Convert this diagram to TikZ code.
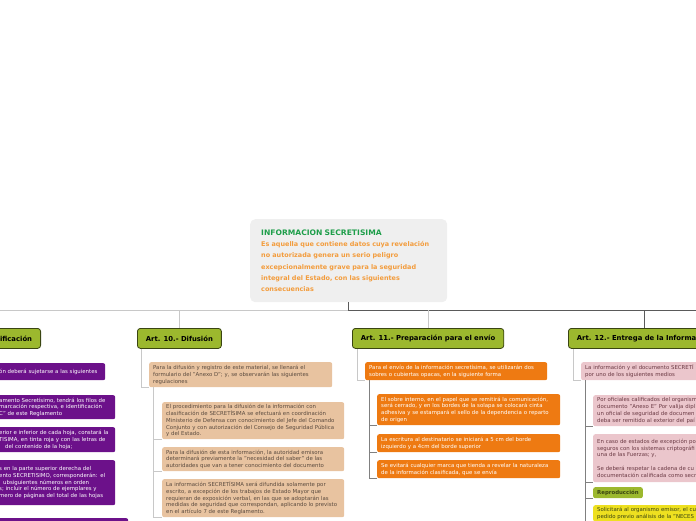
\documentclass[tikz,border=0pt]{standalone}
\usepackage{fontspec}
\setmainfont{DejaVu Sans}

\definecolor{artgreen}{HTML}{9CB82E}
\definecolor{artedge}{HTML}{3A4512}
\definecolor{infogray}{HTML}{EFEFEF}
\definecolor{titlegreen}{HTML}{1E9E4A}
\definecolor{infoorange}{HTML}{F39C3C}
\definecolor{leafpurple}{HTML}{6C118A}
\definecolor{leaftan}{HTML}{E8C3A0}
\definecolor{tantext}{HTML}{5B4B3F}
\definecolor{leaforange}{HTML}{EE7A12}
\definecolor{leafpink}{HTML}{EBC6CC}
\definecolor{pinktext}{HTML}{6B3A44}
\definecolor{leafyellow}{HTML}{EEE020}
\definecolor{lightgray}{HTML}{C8C8C8}
\definecolor{darkgray}{HTML}{5A5A5A}

\newcommand\artfont{\bfseries\fontsize{6.85}{7.5}\selectfont}
\newcommand\leaffont{\fontsize{5.4}{6.8}\selectfont}
\newcommand\infofont{\bfseries\fontsize{6.45}{11.2}\selectfont}

\tikzset{
  infobox/.style={fill=infogray, rounded corners=5pt, anchor=north west, align=left,
    text width=175pt, minimum height=83pt, inner xsep=11pt, font=\infofont, text=infoorange},
  artbox/.style={draw=artedge, fill=artgreen, line width=0.8pt, rounded corners=3pt,
    anchor=north west, minimum height=20pt, inner xsep=8.5pt, font=\artfont},
  leaf/.style={anchor=north west, rounded corners=2pt, align=left, inner xsep=4pt,
    inner ysep=2pt, font=\leaffont},
  purplebox/.style={leaf, fill=leafpurple, text=white},
  tanbox/.style={leaf, fill=leaftan, text=tantext},
  orangebox/.style={leaf, fill=leaforange, text=white},
  pinkbox/.style={leaf, fill=leafpink, text=pinktext},
  yellowbox/.style={leaf, fill=leafyellow, text=artedge},
  reprobox/.style={leaf, fill=artgreen, text=artedge, font=\leaffont\bfseries},
  lightlink/.style={draw=lightgray, line width=0.9pt},
  darklink/.style={draw=darkgray, line width=0.9pt},
  midlink/.style={draw=gray, line width=0.9pt}
}

\begin{document}
\begin{tikzpicture}[x=1pt,y=-1pt]
\useasboundingbox (0,0) rectangle (696,520);
\clip (0,0) rectangle (696,520);

% centre
\node[infobox] (info) at (250,219) {\textcolor{titlegreen}{\fontsize{7.6}{11.2}\selectfont INFORMACION SECRETISIMA}\\
  Es aquella que contiene datos cuya revelación\\ no autorizada genera un serio peligro\\
  excepcionalmente grave para la seguridad\\ integral del Estado, con las siguientes\\ consecuencias};

% articulos
\node[artbox, anchor=north east] (art9) at (41,328) {ificación};
\node[artbox] (art10) at (137,328) {Art. 10.- Difusión};
\node[artbox] (art11) at (352,328) {Art. 11.- Preparación para el envío};
\node[artbox] (art12) at (568,328) {Art. 12.- Entrega de la Información};

\coordinate (bus) at (349,310);
\coordinate (busleft) at (-2,310);
\coordinate (busright) at (698,310);
\draw[lightlink] (busleft) -- (info.south |- bus);
\draw[darklink] (info.south) |- (busright);
\draw[lightlink] (art10.north |- bus) -- (art10.north);
\draw[lightlink] (art11.north |- bus) -- (art11.north);
\draw[darklink] (art12.north |- bus) -- (art12.north);

% clasificacion
\node[purplebox, text width=102pt, minimum height=17pt] (cla1) at (-5,363) {ón deberá sujetarse a las siguientes};
\node[purplebox, text width=112pt, minimum height=24pt] (cla2) at (-5,395) {amento Secretísimo, tendrá los filos de\\ marcación respectiva, e identificación\\ C" de este Reglamento};
\node[purplebox, text width=112pt, minimum height=25pt] (cla3) at (-5,427) {erior e inferior de cada hoja, constará la\\ TISIMA, en tinta roja y con las letras de\\ \hspace*{6pt}del contenido de la hoja;};
\node[purplebox, text width=112pt, minimum height=45pt] (cla4) at (-5,460) {s en la parte superior derecha del\\ ento SECRETISIMO, corresponderán: el\\ \hspace*{4pt}ubsiguientes números en orden\\ s; incluir el número de ejemplares y\\ mero de páginas del total de las hojas};
\node[purplebox, text width=125pt, minimum height=20pt] (cla5) at (-5,518) {};

% difusion
\node[tanbox, text width=175pt, minimum height=25pt] (dif) at (149,362) {Para la difusión y registro de este material, se llenará el\\ formulario del "Anexo D"; y, se observarán las siguientes\\ regulaciones};
\node[tanbox, text width=174pt, minimum height=37pt] (dif1) at (162,402) {El procedimiento para la difusión de la información con\\ clasificación de SECRETÍSIMA se efectuará en coordinación\\ Ministerio de Defensa con conocimiento del Jefe del Comando\\ Conjunto y con autorización del Consejo de Seguridad Pública\\ y del Estado.};
\node[tanbox, text width=174pt, minimum height=24pt] (dif2) at (162,447) {Para la difusión de esta información, la autoridad emisora\\ determinará previamente la "necesidad del saber" de las\\ autoridades que van a tener conocimiento del documento};
\node[tanbox, text width=174pt, minimum height=38pt] (dif3) at (162,479) {La información SECRETÍSIMA será difundida solamente por\\ escrito, a excepción de los trabajos de Estado Mayor que\\ requieran de exposición verbal, en las que se adoptarán las\\ medidas de seguridad que correspondan, aplicando lo previsto\\ en el artículo 7 de este Reglamento.};
\draw[lightlink] ([xshift=4pt]art10.south west) |- (dif.south west);
\foreach \c in {dif1,dif2,dif3} \draw[lightlink] ([xshift=4pt]dif.south west) |- (\c.south west);

% envio
\node[orangebox, text width=174pt, minimum height=18pt] (env) at (365,362) {Para el envío de la información secretísima, se utilizarán dos\\ sobres o cubiertas opacas, en la siguiente forma};
\node[orangebox, text width=175pt, minimum height=31pt] (env1) at (377,394) {El sobre interno, en el papel que se remitirá la comunicación,\\ será cerrado, y en los bordes de la solapa se colocará cinta\\ adhesiva y se estampará el sello de la dependencia o reparto\\ de origen};
\node[orangebox, text width=175pt, minimum height=18pt] (env2) at (377,434) {La escritura al destinatario se iniciará a 5 cm del borde\\ izquierdo y a 4cm del borde superior};
\node[orangebox, text width=175pt, minimum height=18pt] (env3) at (377,460) {Se evitará cualquier marca que tienda a revelar la naturaleza\\ de la información clasificada, que se envía};
\draw[lightlink] ([xshift=5pt]art11.south west) |- (env.south west);
\foreach \c in {env1,env2,env3} \draw[midlink] ([xshift=4pt]env.south west) |- (\c.south west);

% entrega
\node[pinkbox, text width=160pt, minimum height=18pt] (ent) at (581,362) {La información y el documento SECRETÍ\\ por uno de los siguientes medios};
\node[pinkbox, text width=160pt, minimum height=31pt] (ent1) at (593,395) {Por oficiales calificados del organism\\ documento "Anexo E" Por valija dipl\\ un oficial de seguridad de documen\\ deba ser remitido al exterior del paí};
\node[pinkbox, text width=160pt, minimum height=48pt] (ent2) at (593,434) {En caso de estados de excepción po\\ seguros con los sistemas criptográfi\\ una de las Fuerzas; y,\\[6.8pt] Se deberá respetar la cadena de cu\\ documentación calificada como secr};
\node[reprobox, minimum height=11pt, inner ysep=1pt] (repro) at (593,487) {Reproducción};
\node[yellowbox, text width=160pt] (ent3) at (593,505) {Solicitará al organismo emisor, el cu\\ pedido previo análisis de la "NECES};
\draw[lightlink] ([xshift=5pt]art12.south west) |- (ent.south west);
\foreach \c in {ent1,ent2,repro,ent3} \draw[midlink] ([xshift=4pt]ent.south west) |- (\c.south west);
\end{tikzpicture}
\end{document}
